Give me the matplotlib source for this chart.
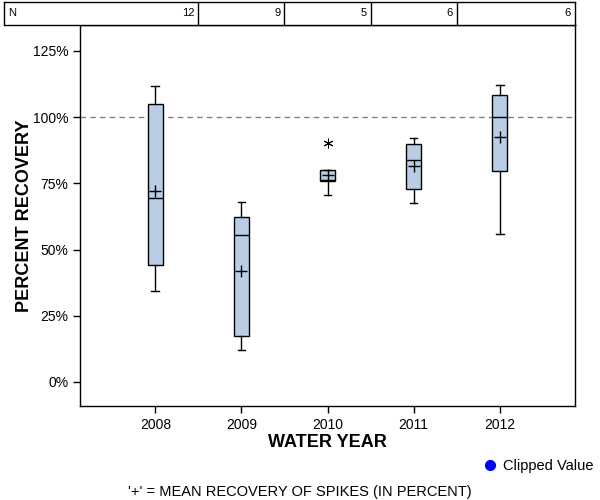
import matplotlib.pyplot as plt
from matplotlib.lines import Line2D

plt.rcParams['font.family'] = ['Liberation Sans', 'DejaVu Sans']

# data (percent recovery)
years = ['2008', '2009', '2010', '2011', '2012']
counts = [12, 9, 5, 6, 6]
whis_lo = [34.3, 12.1, 70.5, 67.4, 55.7]
q1 = [44.2, 17.2, 76.0, 72.7, 79.5]
median = [69.4, 55.3, 76.4, 84.0, 99.9]
q3 = [104.8, 62.1, 80.0, 90.0, 108.5]
whis_hi = [111.8, 67.9, 80.0, 92.0, 112.3]
means = [72.0, 41.8, 78.1, 81.5, 92.6]
outliers = [[], [], [90.2], [], []]

W, H = 600, 500
fig = plt.figure(figsize=(6, 5), dpi=100)

def fbox(x0, y0, x1, y1):
    # pixel box (top-left origin) -> figure fraction rect
    return [x0 / W, 1 - y1 / H, (x1 - x0) / W, (y1 - y0) / H]

ax = fig.add_axes(fbox(80, 25, 575, 406))

stats = []
for i in range(len(years)):
    stats.append(dict(med=median[i], q1=q1[i], q3=q3[i], whislo=whis_lo[i],
                      whishi=whis_hi[i], mean=means[i], fliers=outliers[i]))

ax.bxp(stats, positions=range(len(years)), widths=0.18, patch_artist=True,
       showmeans=True, showcaps=True,
       boxprops=dict(facecolor='#b9cde5', edgecolor='black', linewidth=1),
       medianprops=dict(color='black', linewidth=1),
       whiskerprops=dict(color='black', linewidth=1),
       capprops=dict(color='black', linewidth=1),
       capwidths=0.09,
       meanprops=dict(marker='+', markeredgecolor='black', markersize=9,
                      markeredgewidth=1),
       flierprops=dict(marker=(6, 2, 0), markeredgecolor='black',
                       markersize=7, markeredgewidth=0.7))

ax.axhline(100, color='grey', linestyle=(0, (4, 3)), linewidth=1, zorder=0)

ax.set_xlim(-0.875, 4.875)
ax.set_ylim(-9.1, 134.8)
ax.set_xticks(range(len(years)))
ax.set_xticklabels(years)
ax.set_yticks([0, 25, 50, 75, 100, 125])
ax.set_yticklabels(['0%', '25%', '50%', '75%', '100%', '125%'])
ax.tick_params(direction='out', length=5, width=1, labelsize=10, colors='black')
for sp in ax.spines.values():
    sp.set_linewidth(1)

ax.set_xlabel('WATER YEAR', fontsize=13, fontweight='bold')
ax.set_ylabel('PERCENT RECOVERY', fontsize=13, fontweight='bold')
ax.xaxis.set_label_coords(0.5, -(434 - 406) / 381)
ax.yaxis.set_label_coords((33 - 80) / 495, 0.5)

# N table across the top
tab = fig.add_axes(fbox(4, 2, 575, 25))
tab.set_xlim(-0.875 - 76 / 86.1, 4.875)
tab.set_ylim(0, 1)
tab.set_xticks([])
tab.set_yticks([])
for sp in tab.spines.values():
    sp.set_linewidth(1)
tab.text(0.008, 0.5, 'N', transform=tab.transAxes, ha='left', va='center',
         fontsize=8)
for i, n in enumerate(counts):
    if i < len(counts) - 1:
        tab.axvline(i + 0.5, color='black', linewidth=1)
        xr = i + 0.5
    else:
        xr = 4.875
    tab.annotate(str(n), (xr, 0.5), xytext=(-3, 0), textcoords='offset points',
                 ha='right', va='center', fontsize=8)

# legend and footnote
handle = Line2D([], [], marker='o', color='blue', linestyle='none', markersize=7)
fig.legend([handle], ['Clipped Value'], loc='center left',
           bbox_to_anchor=(468 / W, 1 - 466 / H), frameon=False, fontsize=10.5,
           handletextpad=0.3, handlelength=1.2)
fig.text(300 / W, 1 - 492 / H, "'+' = MEAN RECOVERY OF SPIKES (IN PERCENT)",
         ha='center', va='center', fontsize=10.5)

fig.savefig('out.png', dpi=100)
